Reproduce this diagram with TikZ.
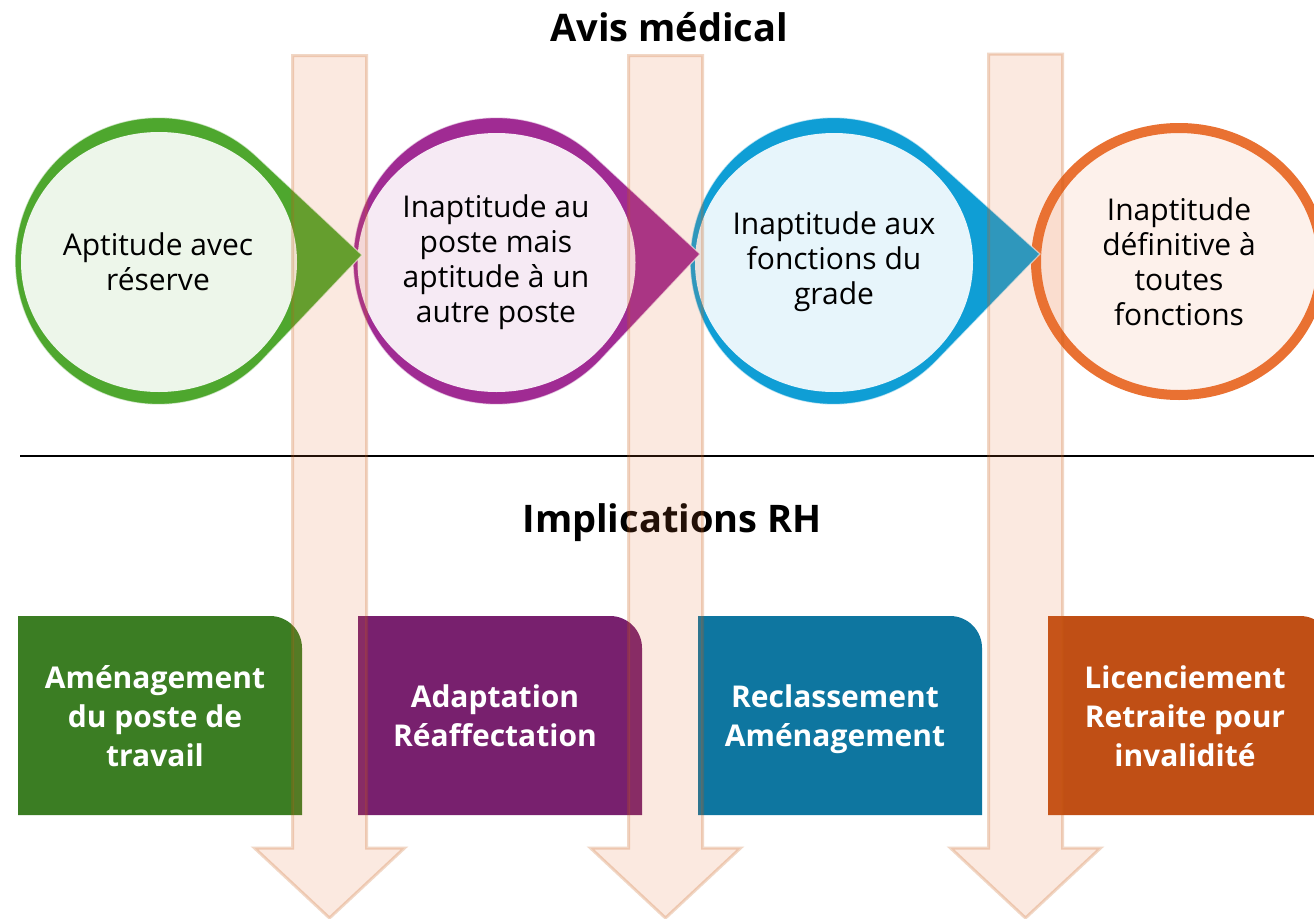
\documentclass[tikz,border=0pt]{standalone}
\usepackage{fontspec}
\setmainfont{Open Sans}
\definecolor{gA}{HTML}{4EA72E}
\definecolor{gL}{HTML}{EDF6EA}
\definecolor{gD}{HTML}{3B7D23}
\definecolor{pA}{HTML}{A02B93}
\definecolor{pL}{HTML}{F6EAF4}
\definecolor{pD}{HTML}{78206E}
\definecolor{bA}{HTML}{0F9ED5}
\definecolor{bL}{HTML}{E7F5FB}
\definecolor{bD}{HTML}{0E76A0}
\definecolor{oA}{HTML}{E97132}
\definecolor{oL}{HTML}{FDF1EB}
\definecolor{oD}{HTML}{C04F15}
\definecolor{arrline}{HTML}{C55A11}
\tikzset{
  tipshape/.style={fill=#1, draw=white, draw opacity=0.65, line width=1.2},
  ctext/.style={align=center, font=\fontsize{30}{35}\selectfont, text=black, inner sep=0pt},
  btext/.style={align=center, font=\bfseries\fontsize{30}{39}\selectfont, text=white, inner sep=0pt},
  titletext/.style={font=\bfseries\fontsize{38}{44}\selectfont, text=black, inner sep=0pt},
  downarrow/.style={fill=oA, fill opacity=0.15, draw=arrline, draw opacity=0.24, line width=3},
  rhbox/.style={fill=#1},
}
\begin{document}
\begin{tikzpicture}[x=1pt,y=1pt]
\useasboundingbox (0,0) rectangle (1314,-918);
\clip (0,0) rectangle (1314,-918);
\fill[white] (0,0) rectangle (1314,-918);

% circle 4 (orange ring)
\draw[line width=10, draw=oA, fill=oL] (1179,-261.5) ellipse[x radius=143, y radius=133.5];

% shape 3 (blue)
\path[tipshape=bA] (1040,-254) -- ([shift={(47.9:143.5)}]833.5,-261)
  arc[start angle=47.9, end angle=315.9, radius=143.5] -- cycle;
\fill[bL] (834,-262.5) ellipse[x radius=139, y radius=129.5];

% shape 2 (purple)
\path[tipshape=pA] (700,-254) -- ([shift={(47.2:143.5)}]496.5,-261)
  arc[start angle=47.2, end angle=316.8, radius=143.5] -- cycle;
\fill[pL] (496.5,-262.5) ellipse[x radius=139, y radius=129.5];

% shape 1 (green)
\path[tipshape=gA] (362,-255) -- ([shift={(46.9:143.5)}]158.5,-261)
  arc[start angle=46.9, end angle=316.5, radius=143.5] -- cycle;
\fill[gL] (159,-262) ellipse[x radius=138, y radius=130];

% circle texts
\node[ctext] (c1) at (158,-262) {Aptitude avec\\réserve};
\node[ctext] (c2) at (496,-262) {Inaptitude au\\poste mais\\aptitude à un\\autre poste};
\node[ctext] (c3) at (834,-262) {Inaptitude aux\\fonctions du\\grade};
\node[ctext] (c4) at (1179,-262) {Inaptitude\\définitive à\\toutes\\fonctions};

% titles
\node[titletext] (avis) at (669,-27) {Avis médical};
\node[titletext] (impl) at (672,-523) {Implications RH};

% separator
\coordinate (l0) at (20,-456);
\coordinate (l1) at (1314,-456);
\draw[line width=2] (l0) -- (l1);

% boxes
\fill[rhbox=gD] (18,-815) -- (18,-616) -- (270,-616) arc[start angle=90, end angle=0, radius=32] -- (302,-815) -- cycle;
\fill[rhbox=pD] (358,-815) -- (358,-616) -- (610,-616) arc[start angle=90, end angle=0, radius=32] -- (642,-815) -- cycle;
\fill[rhbox=bD] (698,-815) -- (698,-616) -- (950,-616) arc[start angle=90, end angle=0, radius=32] -- (982,-815) -- cycle;
\fill[rhbox=oD] (1048,-815) -- (1048,-616) -- (1300,-616) arc[start angle=90, end angle=0, radius=32] -- (1332,-815) -- cycle;

\node[btext] (b1) at (155,-716) {Aménagement\\du poste de\\travail};
\node[btext] (b2) at (495,-716) {Adaptation\\Réaffectation};
\node[btext] (b3) at (835,-719.5) {Reclassement\\Aménagement};
\node[btext] (b4) at (1185,-716) {Licenciement\\Retraite pour\\invalidité};

% down arrows
\path[downarrow] (292.5,-55.5) -- (366.5,-55.5) -- (366.5,-848) -- (404.5,-848) -- (329.5,-918) -- (254.5,-848) -- (292.5,-848) -- cycle;
\path[downarrow] (628.5,-55.5) -- (702.5,-55.5) -- (702.5,-848) -- (740.5,-848) -- (665.5,-918) -- (590.5,-848) -- (628.5,-848) -- cycle;
\path[downarrow] (988.5,-54) -- (1062.5,-54) -- (1062.5,-848) -- (1100.5,-848) -- (1025.5,-918) -- (950.5,-848) -- (988.5,-848) -- cycle;
\end{tikzpicture}
\end{document}
